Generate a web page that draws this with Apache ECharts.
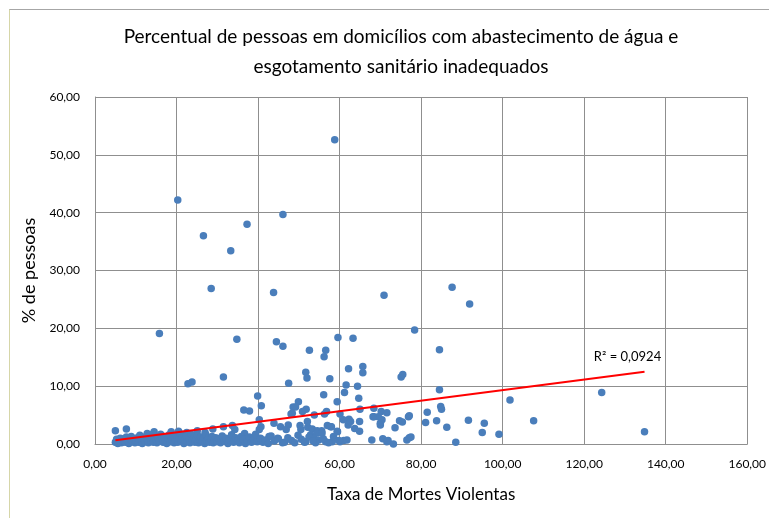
<!DOCTYPE html>
<html>
<head>
<meta charset="utf-8">
<script src="https://cdn.jsdelivr.net/npm/echarts@6/dist/echarts.min.js"></script>
<style>
  html, body { margin: 0; padding: 0; background: #fff; }
  #frame {
    position: absolute; left: 9px; top: 9px; width: 800px; height: 600px;
    border-top: 1px solid #a6a6a6; border-left: 1px solid #d6d6a8;
  }
  #chart { position: absolute; left: 0; top: 0; width: 769px; height: 518px; }
</style>
</head>
<body>
<div id="frame"></div>
<div id="chart"></div>
<script>
// taxa de mortes violentas (x) vs % de pessoas (y)
const outliers = [
  [58.8, 52.6], [20.3, 42.2], [46.1, 39.7], [37.3, 38.0], [26.6, 36.0], [33.3, 33.4],
  [28.5, 26.9], [43.8, 26.2], [70.9, 25.7], [87.6, 27.1], [91.9, 24.2],
  [15.8, 19.1], [78.4, 19.7], [34.8, 18.1], [44.5, 17.7], [46.1, 16.9],
  [59.6, 18.4], [63.3, 18.3], [52.6, 16.2], [56.6, 16.2], [56.2, 15.1], [84.5, 16.3],
  [62.2, 13.0], [65.7, 13.4], [65.7, 12.3], [51.7, 12.4], [52.0, 11.4], [57.6, 11.3],
  [22.8, 10.4], [23.8, 10.7], [31.5, 11.6], [47.5, 10.5], [75.1, 11.6], [75.5, 12.0],
  [61.6, 10.2], [64.4, 10.0], [61.2, 8.9], [56.1, 8.5], [39.9, 8.3], [64.7, 7.9],
  [59.4, 7.3], [40.8, 6.6], [49.9, 7.3], [48.6, 6.4], [48.1, 5.2], [84.5, 9.4],
  [101.8, 7.6], [124.3, 8.9]
];

const midPoints = [
  [36.5, 5.9], [37.9, 5.7], [51.8, 6.0], [50.9, 5.6], [56.8, 5.6], [56.3, 5.2],
  [65.0, 6.0], [68.4, 6.2], [70.2, 5.6], [71.6, 5.4], [68.4, 4.7], [69.5, 4.7],
  [53.8, 5.0], [60.1, 5.2], [62.3, 4.3], [62.1, 3.3], [64.9, 3.9], [70.0, 3.6],
  [70.4, 4.2], [74.7, 4.0], [75.4, 3.8], [76.9, 4.7], [73.6, 2.8], [40.3, 4.2],
  [40.7, 3.0], [43.9, 3.6], [45.5, 3.0], [47.4, 3.3], [50.3, 3.2], [52.2, 2.9],
  [53.3, 2.6], [54.5, 2.3], [55.6, 2.3], [57.0, 3.2], [58.0, 3.0], [59.5, 2.1],
  [63.7, 2.7], [64.9, 2.2], [31.5, 3.0], [33.7, 3.2], [34.3, 2.5], [25.1, 2.3],
  [18.7, 2.1], [5.0, 2.3], [7.7, 2.6], [28.9, 2.6], [49.2, 6.4], [48.4, 5.3],
  [52.1, 3.9], [46.9, 2.5], [50.5, 2.5], [60.9, 4.2], [62.7, 3.9], [68.2, 4.7],
  [70.0, 3.3], [77.1, 4.9], [57.8, 3.0], [59.4, 2.2], [52.9, 1.6], [54.5, 1.9],
  [55.7, 1.9], [36.7, 1.8], [40.3, 2.5], [42.7, 1.3], [44.8, 1.0],
  [84.8, 6.5], [85.0, 6.0], [81.5, 5.5], [81.1, 3.7], [83.8, 4.0], [86.3, 2.9],
  [91.6, 4.1], [95.5, 3.6], [95.0, 2.0], [99.1, 1.7], [107.6, 4.0], [134.8, 2.1]
];

const lowPoints = [
  [67.9, 0.7], [70.6, 0.9], [71.9, 0.6], [73.2, 0.0], [76.5, 0.7], [77.1, 1.1],
  [88.5, 0.3], [46.0, 0.2], [53.7, 1.0], [54.9, 0.7], [54.1, 0.2], [51.7, 0.4],
  [56.6, 0.4], [58.2, 0.4], [60.1, 0.4], [61.0, 0.6], [61.8, 0.7], [71.6, 0.4],
  [77.5, 1.2], [12.8, 1.8], [14.5, 2.1], [20.5, 2.2], [22.5, 2.0], [27.0, 2.0],
  [5.0, 0.3], [5.3, 0.8], [5.6, 0.1], [5.9, 0.5], [6.2, 1.0], [6.5, 0.2], [6.8, 0.6],
  [7.1, 0.9], [7.4, 0.3], [7.7, 1.2], [8.0, 0.5], [8.3, 0.1], [8.6, 0.8], [8.9, 1.3],
  [9.2, 0.4], [9.5, 0.9], [9.8, 0.2], [10.1, 0.6], [10.4, 1.1], [10.7, 0.3], [11.0, 1.5],
  [11.3, 0.7], [11.6, 0.1], [11.9, 1.0], [12.2, 0.4], [12.5, 1.3], [12.8, 0.8], [13.1, 0.2],
  [13.4, 1.6], [13.7, 0.5], [14.0, 1.0], [14.3, 0.3], [14.6, 1.4], [14.9, 0.7], [15.2, 0.2],
  [15.5, 1.1], [15.8, 0.5], [16.1, 1.7], [16.4, 0.9], [16.7, 0.3], [17.0, 1.3], [17.3, 0.6],
  [17.6, 0.1], [17.9, 1.0], [18.2, 1.6], [18.5, 0.4], [18.8, 0.8], [19.1, 1.2], [19.4, 0.2],
  [19.7, 0.6], [20.0, 1.5], [20.3, 0.3], [20.6, 0.9], [20.9, 1.8], [21.2, 0.5], [21.5, 1.2],
  [21.8, 0.1], [22.1, 0.7], [22.4, 1.4], [22.7, 0.4], [23.0, 1.0], [23.3, 0.2], [23.6, 1.7],
  [23.9, 0.6], [24.2, 1.1], [24.5, 0.3], [24.8, 0.8], [25.1, 1.5], [25.4, 0.2], [25.7, 0.7],
  [26.0, 1.2], [26.3, 0.4], [26.6, 0.9], [26.9, 0.1], [27.2, 1.6], [27.5, 0.5], [27.8, 1.0],
  [28.1, 0.3], [28.4, 0.8], [28.7, 1.3], [29.0, 0.2], [29.3, 0.6], [29.6, 1.1], [29.9, 0.4],
  [30.3, 0.9], [30.8, 0.2], [31.2, 1.4], [31.7, 0.5], [32.1, 1.0], [32.6, 0.1], [33.0, 0.7],
  [33.5, 1.6], [34.0, 0.3], [34.5, 1.1], [35.0, 0.6], [35.4, 0.2], [35.9, 1.3], [36.4, 0.8],
  [36.9, 0.1], [37.4, 0.5], [37.9, 1.2], [38.4, 0.3], [38.9, 0.9], [39.4, 1.7], [39.8, 0.4],
  [40.6, 1.0], [41.2, 0.3], [41.8, 0.7], [42.5, 0.1], [43.2, 1.4], [44.0, 0.5], [45.0, 0.9],
  [46.5, 0.3], [47.3, 1.1], [48.2, 0.6], [49.0, 0.2], [49.8, 1.5], [50.6, 0.8], [51.4, 0.3],
  [52.5, 1.2], [53.5, 0.5], [56.0, 0.9], [57.3, 0.2], [58.5, 1.3], [59.8, 0.6]
];

const trendSlope = 0.0913;
const trendIntercept = 0.19;
const r2Label = 'R² = 0,0924';

const allPoints = outliers.concat(midPoints, lowPoints);
const xs = allPoints.map(p => p[0]);
const xMin = Math.min(...xs);
const xMax = Math.max(...xs);
const trendData = [
  [xMin, trendIntercept + trendSlope * xMin],
  {
    value: [xMax, trendIntercept + trendSlope * xMax],
    label: {
      show: true, formatter: r2Label, position: 'top', offset: [-17, -3],
      color: '#000', fontSize: 13, fontFamily: 'Lato'
    }
  }
];

const fmt = v => v.toFixed(2).replace('.', ',');
const gridColor = '#8f8f8f';

const chart = echarts.init(document.getElementById('chart'));
chart.setOption({
  animation: false,
  title: {
    text: 'Percentual de pessoas em domicílios com abastecimento de água e\nesgotamento sanitário inadequados',
    left: 396, top: 17, textAlign: 'center',
    textStyle: { fontFamily: 'Lato', fontSize: 19, fontWeight: 'normal', color: '#000', lineHeight: 30 }
  },
  grid: { left: 95, right: 19, top: 97, bottom: 74 },
  xAxis: {
    type: 'value', min: 0, max: 160, interval: 20,
    name: 'Taxa de Mortes Violentas', nameLocation: 'middle', nameGap: 42,
    nameTextStyle: { fontFamily: 'Lato', fontSize: 17, color: '#000' },
    axisLine: { show: true, lineStyle: { color: gridColor } },
    axisTick: { show: false },
    axisLabel: { formatter: fmt, margin: 14, color: '#000', fontFamily: 'Lato', fontSize: 12 },
    splitLine: { show: true, lineStyle: { color: gridColor, width: 1 } }
  },
  yAxis: {
    type: 'value', min: 0, max: 60, interval: 10,
    name: '% de pessoas', nameLocation: 'middle', nameGap: 56,
    nameTextStyle: { fontFamily: 'Lato', fontSize: 18, color: '#000' },
    axisLine: { show: true, lineStyle: { color: gridColor } },
    axisTick: { show: false },
    axisLabel: { formatter: fmt, margin: 15, color: '#000', fontFamily: 'Lato', fontSize: 12 },
    splitLine: { show: true, lineStyle: { color: gridColor, width: 1 } }
  },
  series: [
    {
      type: 'scatter',
      data: allPoints,
      symbolSize: 7.5,
      itemStyle: { color: '#4a7ebb', opacity: 1 }
    },
    {
      type: 'line',
      data: trendData,
      symbol: 'circle',
      symbolSize: 0,
      lineStyle: { color: '#ff0000', width: 2 },
      itemStyle: { color: '#ff0000' },
      z: 3
    }
  ]
});
</script>
</body>
</html>
